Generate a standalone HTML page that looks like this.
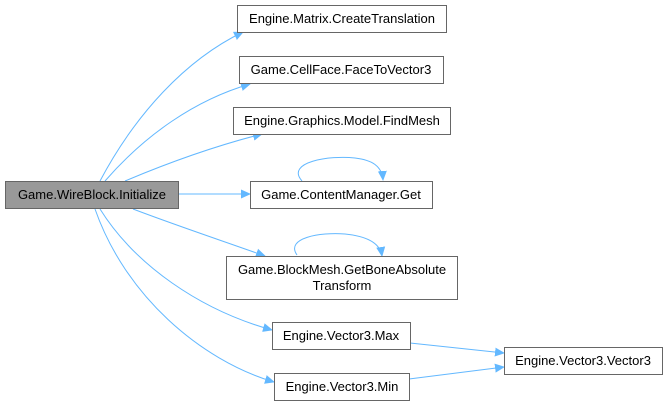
<!DOCTYPE html>
<html><head><style>
body{margin:0;background:#fff;}
svg{display:block;font-family:"Liberation Sans",Arial,sans-serif;font-size:13px;}
</style></head><body>
<svg width="668" height="405" viewBox="0 0 668 405">
<defs><marker id="a" markerWidth="10" markerHeight="10" refX="9" refY="5" orient="auto" markerUnits="userSpaceOnUse"><path d="M0,0.5 L10,5 L0,9.5 z" fill="#63b8ff"/></marker></defs>
<g fill="none" stroke="#63b8ff" stroke-width="1" marker-end="url(#a)">
<path d="M100,181 C135,115 185,60 243,32"/>
<path d="M105,181 C145,135 195,100 250,84"/>
<path d="M125,181 C170,162 215,146 262,134"/>
<path d="M178,194 L250,194"/>
<path d="M133,209 C175,225 220,240 265,256"/>
<path d="M100,209 C135,265 200,310 272,330"/>
<path d="M95,209 C125,295 200,360 274,382"/>
<path d="M410,343 L504,353"/>
<path d="M409,379 L504,367"/>
<path d="M302,181 C285,162 330,155 355,158 C372,160 382,166 383,180"/>
<path d="M297,255 C285,238 320,232 345,234 C365,236 380,242 382,256"/>
</g>
<g stroke="#666" stroke-width="1">
<rect x="5.5" y="181.5" width="173" height="27" fill="#999"/>
<rect x="237.5" y="5.5" width="209" height="27" fill="#fff"/>
<rect x="239.5" y="56.5" width="204" height="27" fill="#fff"/>
<rect x="233.5" y="107.5" width="217" height="27" fill="#fff"/>
<rect x="250.5" y="181.5" width="182" height="27" fill="#fff"/>
<rect x="226.5" y="256.5" width="231" height="43" fill="#fff"/>
<rect x="272.5" y="322.5" width="138" height="27" fill="#fff"/>
<rect x="274.5" y="373.5" width="135" height="27" fill="#fff"/>
<rect x="504.5" y="347.5" width="158" height="27" fill="#fff"/>
</g>
<g fill="#000" text-anchor="middle">
<text x="92" y="199">Game.WireBlock.Initialize</text>
<text x="342" y="23">Engine.Matrix.CreateTranslation</text>
<text x="341" y="74">Game.CellFace.FaceToVector3</text>
<text x="342" y="125">Engine.Graphics.Model.FindMesh</text>
<text x="341" y="199">Game.ContentManager.Get</text>
<text x="342" y="274">Game.BlockMesh.GetBoneAbsolute</text>
<text x="342" y="290">Transform</text>
<text x="341" y="340">Engine.Vector3.Max</text>
<text x="342" y="391">Engine.Vector3.Min</text>
<text x="583" y="365">Engine.Vector3.Vector3</text>
</g>
</svg>
</body></html>
